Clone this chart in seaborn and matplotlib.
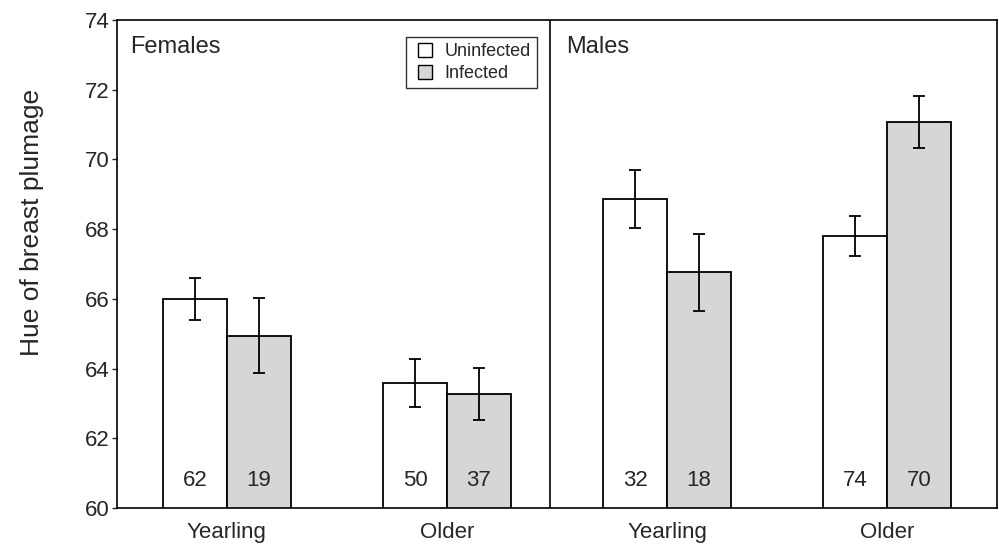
import pandas as pd
import seaborn as sns
import matplotlib.pyplot as plt
from matplotlib.lines import Line2D

# Werte
groups = ["Females", "Females", "Males", "Males"]
ages = ["Yearling", "Older", "Yearling", "Older"]
uninfected_mean = [66.00, 63.58, 68.87, 67.80]
uninfected_se = [0.61, 0.69, 0.83, 0.57]
infected_mean = [64.95, 63.27, 66.76, 71.08]
infected_se = [1.07, 0.75, 1.10, 0.75]
uninfected_n = [62, 50, 32, 74]
infected_n = [19, 37, 18, 70]
status_levels = ["Uninfected", "Infected"]

keys = [g + " " + a for g, a in zip(groups, ages)]
df = pd.DataFrame({
    "group": keys * 2,
    "status": ["Uninfected"] * 4 + ["Infected"] * 4,
    "hue": uninfected_mean + infected_mean,
    "se": uninfected_se + infected_se,
    "n": uninfected_n + infected_n,
})

sns.set_style("ticks")
plt.rcParams['font.family'] = ['Liberation Sans', 'DejaVu Sans']

fig, ax = plt.subplots(figsize=(9.99, 5.56), dpi=100)
fig.subplots_adjust(left=0.117, right=0.998, top=0.964, bottom=0.086)

colors = {"Uninfected": "white", "Infected": "#d6d6d6"}
sns.barplot(data=df, x="group", y="hue", hue="status", order=keys,
            hue_order=status_levels, palette=colors, saturation=1,
            width=0.58, errorbar=None, edgecolor="black", linewidth=1.3,
            legend=False, ax=ax)

# Fehlerbalken und Stichprobengrößen
for level, cont in zip(status_levels, ax.containers):
    sub = df[df["status"] == level].set_index("group").loc[keys]
    for bar, (_, row) in zip(cont, sub.iterrows()):
        xc = bar.get_x() + bar.get_width() / 2
        ax.errorbar(xc, row["hue"], yerr=row["se"], fmt="none",
                    ecolor="black", elinewidth=1.3, capsize=4.5, capthick=1.3)
        ax.text(xc, 60.78, str(row["n"]), ha="center", va="center", fontsize=16)

ax.set_ylim(60, 74)
ax.set_xlim(-0.5, 3.5)
ax.set_yticks(range(60, 75, 2))
ax.set_xticks(range(4))
ax.set_xticklabels(ages)
ax.set_xlabel("")
ax.set_ylabel("Hue of breast plumage", fontsize=19)
ax.yaxis.set_label_coords(-0.083, 0.586)
ax.tick_params(axis="y", labelsize=16, length=3.5, width=1, direction="out", pad=1.5)
ax.tick_params(axis="x", labelsize=16, length=0, pad=10)

for sp in ax.spines.values():
    sp.set_visible(True)
    sp.set_color("black")
    sp.set_linewidth(1.2)

ax.axvline(1.47, color="black", linewidth=1.2)
ax.text(-0.44, 73.55, "Females", fontsize=17, va="top")
ax.text(1.54, 73.55, "Males", fontsize=17, va="top")

handles = [Line2D([], [], marker="s", markersize=9.5, linestyle="none",
                  markerfacecolor=colors[s], markeredgecolor="black", markeredgewidth=1)
           for s in status_levels]
leg = ax.legend(handles, status_levels, loc="upper left", bbox_to_anchor=(0.328, 0.965),
                fontsize=13, frameon=True, fancybox=False, edgecolor="black",
                borderpad=0.35, handlelength=1.5, handletextpad=0.3,
                labelspacing=0.25, borderaxespad=0)
leg.get_frame().set_linewidth(1)

plt.savefig("out.png", dpi=100)
